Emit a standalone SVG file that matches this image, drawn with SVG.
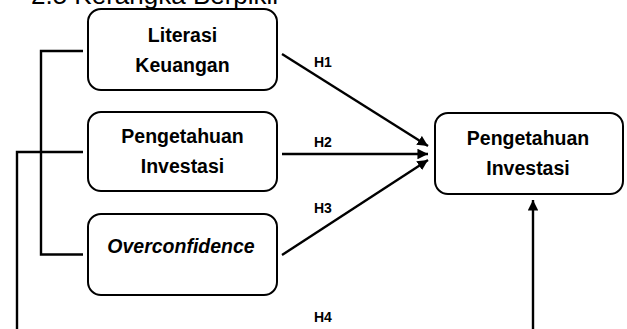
<svg xmlns="http://www.w3.org/2000/svg" width="627" height="329" viewBox="0 0 627 329">
<defs>
<style>
.box{fill:#fff;stroke:#000;stroke-width:2}
.lbl{font-family:"Liberation Sans",Arial,sans-serif;font-weight:bold;font-size:19.5px;fill:#000;text-anchor:middle}
.h{font-family:"Liberation Sans",Arial,sans-serif;font-weight:bold;font-size:14px;fill:#000}
.ln{fill:none;stroke:#000;stroke-width:2.4}
</style>
<marker id="ah" viewBox="0 0 10 10" refX="10" refY="5" markerWidth="4.4" markerHeight="4.4" orient="auto" markerUnits="strokeWidth">
<path d="M0,0 L10,5 L0,10 z" fill="#000"/>
</marker>
</defs>
<rect width="627" height="329" fill="#fff"/>
<text x="31" y="4" font-family="Liberation Sans,Arial,sans-serif" font-size="26" fill="#000">2.5 Kerangka Berpikir</text>
<g id="connectors">
<path class="ln" d="M83,51 H41 V254.5 H83"/>
<path class="ln" d="M83,152 H17 V329"/>
<line class="ln" x1="282" y1="54" x2="428" y2="146" marker-end="url(#ah)"/>
<line class="ln" x1="282" y1="154" x2="428" y2="154" marker-end="url(#ah)"/>
<line class="ln" x1="282" y1="255" x2="428" y2="160" marker-end="url(#ah)"/>
<line class="ln" x1="533" y1="329" x2="533" y2="200" marker-end="url(#ah)"/>
<text class="h" x="314" y="67">H1</text>
<text class="h" x="314" y="147">H2</text>
<text class="h" x="314" y="213">H3</text>
<text class="h" x="314" y="322">H4</text>
</g>
<g id="literasi">
<rect class="box" x="88" y="9" width="189" height="81" rx="13"/>
<text class="lbl" x="182.5" y="42">Literasi</text>
<text class="lbl" x="182.5" y="72">Keuangan</text>
</g>
<g id="pengetahuan-kiri">
<rect class="box" x="88" y="112" width="189" height="79" rx="13"/>
<text class="lbl" x="182.5" y="143">Pengetahuan</text>
<text class="lbl" x="182.5" y="173">Investasi</text>
</g>
<g id="overconfidence">
<rect class="box" x="88" y="214" width="189" height="81" rx="13"/>
<text class="lbl" x="181" y="253" font-style="italic">Overconfidence</text>
</g>
<g id="pengetahuan-kanan">
<rect class="box" x="435" y="113" width="188" height="81" rx="13"/>
<text class="lbl" x="528" y="145">Pengetahuan</text>
<text class="lbl" x="528" y="175">Investasi</text>
</g>
</svg>
